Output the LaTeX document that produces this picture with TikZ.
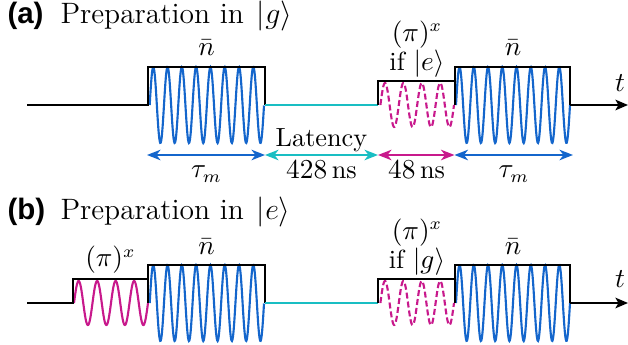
\documentclass[tikz,border=0pt]{standalone}
\usepackage{fontspec}
\newfontfamily\labfont{Liberation Sans}
\usetikzlibrary{arrows.meta}
\definecolor{pblue}{RGB}{20,102,204}
\definecolor{pcyan}{RGB}{25,190,195}
\definecolor{pmag}{RGB}{200,25,140}
\tikzset{
  pline/.style={line width=1pt, black},
  bwave/.style={pblue, line width=0.85pt, samples=240, smooth},
  mwave/.style={pmag, line width=0.85pt, samples=200, smooth},
  dwave/.style={mwave, dash pattern=on 2.4pt off 1.2pt},
  lat/.style={pcyan, line width=0.8pt},
  dimarr/.style={line width=0.8pt, {Stealth[length=5.4pt,width=4.2pt,inset=1.6pt]}-{Stealth[length=5.4pt,width=4.2pt,inset=1.6pt]}},
  lbl/.style={inner sep=0pt, anchor=base, font=\fontsize{10.5}{12}\selectfont},
  ttl/.style={inner sep=0pt, anchor=base west, font=\fontsize{11.8}{13}\selectfont},
  paneltag/.style={inner sep=0pt, anchor=base west, font=\labfont\bfseries\fontsize{11.8}{13}\selectfont},
}
\begin{document}
\begin{tikzpicture}[x=0.4pt,y=-0.4pt]
\useasboundingbox (0,0) rectangle (628,345);
% ================= panel (a) =================
\begin{scope}
\node[paneltag] (tagA) at (7,24) {(a)};
\node[ttl] (titleA) at (60,24) {Preparation in\;\,$|g\rangle$};
% waves
\draw[bwave, domain=149.7:264] plot (\x, {105-38*sin((\x-149.7)*25.19)});
\draw[dwave, domain=380.4:454] plot (\x, {105-22*sin((\x-380.4)*19.565)});
\draw[bwave, domain=456:570] plot (\x, {105-38*sin((\x-456)*25.263)});
% envelope
\draw[pline] (27,105) -- (148,105) -- (148,67) -- (265,67) -- (265,105);
\draw[lat] (265,105) -- (378,105);
\draw[pline] (378,105) -- (378,81) -- (455,81);
\draw[pline] (455,105) -- (455,67) -- (570,67) -- (570,105);
\coordinate (tA0) at (570,105);
\coordinate (tA1) at (628,105);
\draw[pline, -{Stealth[length=5pt,width=4.2pt,inset=1.2pt]}] (tA0) -- (tA1);
\node[lbl] (tlabA) at (620,91.5) {$t$};
% labels
\node[lbl] (nA1) at (206.5,56) {$\bar n$};
\node[lbl] (piA) at (417,41.5) {$(\pi)^x$};
\node[lbl] (ifA) at (417,71) {if $|e\rangle$};
\node[lbl] (nA2) at (513,56) {$\bar n$};
% duration arrows
\coordinate (d0) at (147,155);
\coordinate (d1) at (265,155);
\coordinate (d2) at (378,155);
\coordinate (d3) at (454.5,155);
\coordinate (d4) at (573,155);
\draw[dimarr, pblue] (d0) -- (d1);
\draw[dimarr, pcyan] (d1) -- (d2);
\draw[dimarr, pmag] (d2) -- (d3);
\draw[dimarr, pblue] (d3) -- (d4);
\node[lbl] (lat) at (321.5,146.5) {Latency};
\node[lbl] (tauA1) at (206.5,178) {$\tau_m$};
\node[lbl] (ns428) at (321.5,179) {$428\,\mathrm{ns}$};
\node[lbl] (ns48) at (416.5,179) {$48\,\mathrm{ns}$};
\node[lbl] (tauA2) at (514,178) {$\tau_m$};
\end{scope}
% ================= panel (b) =================
\begin{scope}[shift={(0,198)}]
\node[paneltag] (tagB) at (7,21.5) {(b)};
\node[ttl] (titleB) at (60,21.5) {Preparation in\;\,$|e\rangle$};
% waves
\draw[mwave, domain=74:148] plot (\x, {105-22*sin((\x-74)*19.459)});
\draw[bwave, domain=149.7:264] plot (\x, {105-38*sin((\x-149.7)*25.19)});
\draw[dwave, domain=380.4:454] plot (\x, {105-22*sin((\x-380.4)*19.565)});
\draw[bwave, domain=456:570] plot (\x, {105-38*sin((\x-456)*25.263)});
% envelope
\draw[pline] (27,105) -- (73,105) -- (73,81) -- (148,81);
\draw[pline] (148,105) -- (148,67) -- (265,67) -- (265,105);
\draw[lat] (265,105) -- (378,105);
\draw[pline] (378,105) -- (378,81) -- (455,81);
\draw[pline] (455,105) -- (455,67) -- (570,67) -- (570,105);
\coordinate (tB0) at (570,105);
\coordinate (tB1) at (628,105);
\draw[pline, -{Stealth[length=5pt,width=4.2pt,inset=1.2pt]}] (tB0) -- (tB1);
\node[lbl] (tlabB) at (620,90) {$t$};
% labels
\node[lbl] (piB1) at (110.5,69) {$(\pi)^x$};
\node[lbl] (nB1) at (206.5,57) {$\bar n$};
\node[lbl] (piB2) at (417,41.5) {$(\pi)^x$};
\node[lbl] (ifB) at (417,71) {if $|g\rangle$};
\node[lbl] (nB2) at (513,57) {$\bar n$};
\end{scope}
\end{tikzpicture}
\end{document}
